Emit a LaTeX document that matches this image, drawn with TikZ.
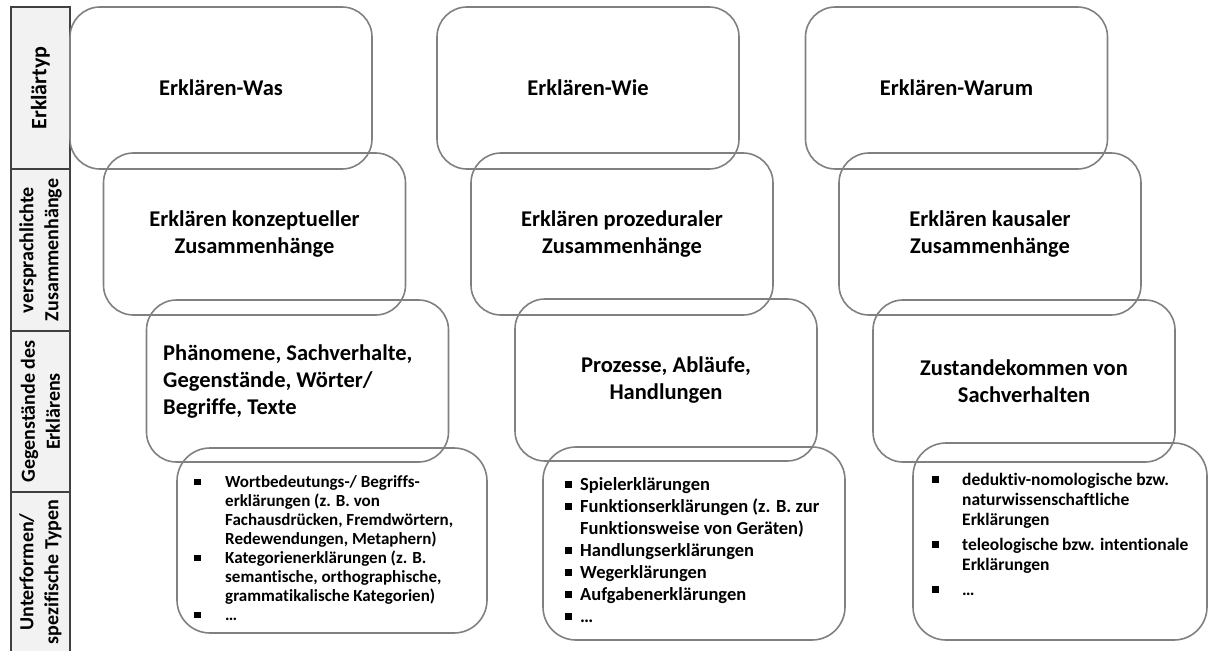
\documentclass[tikz,border=0pt]{standalone}
\usepackage{fontspec}
\setmainfont{Carlito}[Ligatures=NoCommon]
\usepackage{array}
\definecolor{boxline}{RGB}{128,128,128}
\definecolor{stripfill}{RGB}{242,242,242}
\definecolor{stripline}{RGB}{64,64,64}
\newcommand{\bul}{\rule[2.5pt]{6.5pt}{6.5pt}}
\tikzset{
  cardbox/.style={draw=boxline, line width=1.6pt, rounded corners=30pt, inner sep=0pt,
    minimum width=302pt, minimum height=162pt, align=center,
    font=\bfseries\fontsize{22.5}{27}\selectfont},
  listbox/.style={draw=boxline, line width=1.6pt, rounded corners=33pt, inner sep=0pt},
  titletext/.style={inner sep=0pt, font=\bfseries\fontsize{22.5}{27}\selectfont},
  listtext/.style={inner sep=0pt, anchor=north west, font=\bfseries\fontsize{17}{19}\selectfont},
  stripcell/.style={draw=stripline, fill=stripfill, line width=1.3pt, inner sep=0pt,
    rotate=90, minimum height=59pt, align=center, font=\bfseries\fontsize{20}{25}\selectfont},
}
\begin{document}
\begin{tikzpicture}[x=1pt,y=-1pt]
\useasboundingbox (0,0) rectangle (1209,650);
% left strip
\node[stripcell, minimum width=162pt, font=\bfseries\fontsize{22}{25}\selectfont] (s1) at (40.5,88) {Erklärtyp};
\node[stripcell, minimum width=162pt] (s2) at (40.5,250) {versprachlichte\\Zusammenhänge};
\node[stripcell, minimum width=161pt] (s3) at (40.5,411.5) {Gegenstände des\\Erklärens};
\node[stripcell, minimum width=160pt] (s4) at (40.5,572) {Unterformen/\\spezifische Typen};
% column 1
\node[cardbox] (a1) at (221,88) {Erklären-Was};
\node[cardbox] (a2) at (254.5,234) {Erklären konzeptueller\\Zusammenhänge};
\node[cardbox] (a3) at (297.5,381) {};
\node[titletext, anchor=west, align=left] (a3t) at (163,382) {Phänomene, Sachverhalte,\\Gegenstände, Wörter/\\Begriffe, Texte};
\node[listbox, minimum width=310pt, minimum height=185pt] (a4) at (332,540.5) {};
\node[listtext] (a4t) at (194,474) {\begin{tabular}{@{}p{31pt}@{}l@{}}
\bul & Wortbedeutungs-/ Begriffs-\\
 & erklärungen (z. B. von\\
 & Fachausdrücken, Fremdwörtern,\\
 & Redewendungen, Metaphern)\\
\bul & Kategorienerklärungen (z. B.\\
 & semantische, orthographische,\\
 & grammatikalische Kategorien)\\
\bul & …
\end{tabular}};
% column 2
\node[cardbox] (b1) at (588,88) {Erklären-Wie};
\node[cardbox] (b2) at (622,234) {Erklären prozeduraler\\Zusammenhänge};
\node[cardbox] (b3) at (666,380) {Prozesse, Abläufe,\\Handlungen};
\node[listbox, minimum width=302pt, minimum height=193pt] (b4) at (694,543.5) {};
\node[listtext, font=\bfseries\fontsize{18.5}{22}\selectfont] (b4t) at (565,474.5) {\begin{tabular}{@{}p{15pt}@{}l@{}}
\bul & Spielerklärungen\\
\bul & Funktionserklärungen (z. B. zur\\
 & Funktionsweise von Geräten)\\
\bul & Handlungserklärungen\\
\bul & Wegerklärungen\\
\bul & Aufgabenerklärungen\\
\bul & …
\end{tabular}};
% column 3
\node[cardbox] (c1) at (956.5,88) {Erklären-Warum};
\node[cardbox] (c2) at (990,234) {Erklären kausaler\\Zusammenhänge};
\node[cardbox] (c3) at (1024,381) {Zustandekommen von\\Sachverhalten};
\node[listbox, minimum width=294pt, minimum height=197pt] (c4) at (1060,541.5) {};
\node[listtext, font=\bfseries\fontsize{17.5}{20}\selectfont] (c4t) at (932,471) {\begin{tabular}{@{}p{30pt}@{}l@{}}
\bul & deduktiv-nomologische bzw.\\
 & naturwissenschaftliche\\
 & Erklärungen\\[5pt]
\bul & teleologische bzw. intentionale\\
 & Erklärungen\\[5pt]
\bul & …
\end{tabular}};
\end{tikzpicture}
\end{document}
